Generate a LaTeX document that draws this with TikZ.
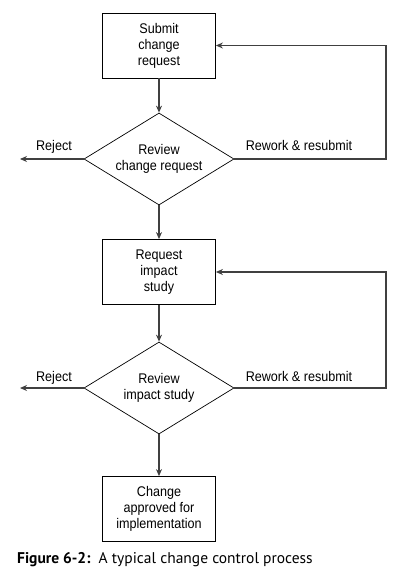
\documentclass[tikz,border=0pt]{standalone}
\usepackage{fontspec}
\setmainfont{Liberation Sans}
\newfontfamily\condfont[FakeStretch=0.9]{Liberation Sans}
\newfontfamily\capfont{PT Sans}
\usetikzlibrary{shapes.geometric,arrows.meta}
\begin{document}
\begin{tikzpicture}[x=1pt,y=-1pt,
  line/.style={draw=black!75, line width=1.1pt},
  arr/.style={line, -{Stealth[length=7pt,width=6pt]}},
  stepbox/.style={draw=black, line width=0.8pt, minimum width=113pt, minimum height=65pt, inner sep=0pt, align=center, font=\condfont\fontsize{14}{16}\selectfont},
  decision/.style={diamond, draw=black, line width=0.7pt, minimum width=150pt, minimum height=92pt, inner sep=-18pt, align=center, font=\condfont\fontsize{14}{16}\selectfont},
  lbl/.style={font=\condfont\fontsize{14}{16}\selectfont, inner sep=0pt}]
\useasboundingbox (0,0) rectangle (400,585);
\fill[white] (0,0) rectangle (400,585);
\node[stepbox] (b1) at (159,45.5) {Submit\\change\\request};
\node[decision] (d1) at (159,159) {Review\\change request};
\node[stepbox] (b2) at (159,272) {Request\\impact\\study};
\node[decision] (d2) at (159,388) {Review\\impact study};
\node[stepbox] (b3) at (159,509) {Change\\approved for\\implementation};
\coordinate (rj1) at (20,159);
\coordinate (rj2) at (20,388);
\coordinate (rt1) at (386,159);
\coordinate (rt2) at (386,388);
\draw[arr] (b1) -- (d1);
\draw[arr] (d1) -- (b2);
\draw[arr] (b2) -- (d2);
\draw[arr] (d2) -- (b3);
\draw[arr] (d1.west) -- (rj1);
\draw[arr] (d2.west) -- (rj2);
\draw[arr] (d1.east) -- (rt1) |- (b1.east);
\draw[arr] (d2.east) -- (rt2) |- (b2.east);
\node[lbl, anchor=base] (l1) at (54,151) {Reject};
\node[lbl, anchor=base] (l2) at (54,381) {Reject};
\node[lbl, anchor=base] (l3) at (299,151) {Rework \& resubmit};
\node[lbl, anchor=base] (l4) at (299,381) {Rework \& resubmit};
\node[anchor=base west, inner sep=0pt, font=\capfont\fontsize{15.5}{18}\selectfont] (cap) at (17,563) {\textbf{Figure 6-2:}\ \ A typical change control process};
\end{tikzpicture}
\end{document}
